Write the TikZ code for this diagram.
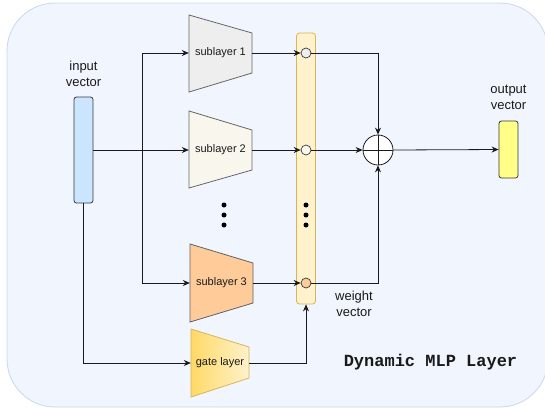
\documentclass[tikz,border=0pt]{standalone}
\usepackage{fontspec}
\setmainfont{Liberation Sans}
\setmonofont{Liberation Mono}
\usetikzlibrary{arrows.meta,calc}
\definecolor{framefill}{HTML}{F1F5FD}
\definecolor{framec}{HTML}{C9D6EE}
\definecolor{inblue}{HTML}{CCE5FF}
\definecolor{outyel}{HTML}{FFFF88}
\definecolor{darkst}{HTML}{36393D}
\definecolor{barfill}{HTML}{FFF2CC}
\definecolor{barst}{HTML}{D6B656}
\definecolor{sgray}{HTML}{EEEEEE}
\definecolor{scream}{HTML}{F9F7ED}
\definecolor{sorange}{HTML}{FFCC99}
\definecolor{gateyel}{HTML}{FFD966}
\definecolor{trapst}{HTML}{666666}
\definecolor{ink}{HTML}{1A1A1A}
\begin{document}
\begin{tikzpicture}[x=1pt,y=-1pt,
  conn/.style={draw=ink, line width=0.8pt, -{Stealth[length=7pt,width=6pt]}},
  plain/.style={draw=ink, line width=0.8pt},
  trapdraw/.style={draw=trapst, line width=0.8pt},
  trapbox/.style={minimum width=63pt, minimum height=77pt, inner sep=0pt, font=\fontsize{11}{13}\selectfont, text=ink},
  vecbox/.style={draw=darkst, rounded corners=2.5pt, line width=0.8pt, inner sep=0pt},
  wcirc/.style={circle, draw=darkst, line width=0.7pt, minimum size=10pt, inner sep=0pt},
  lbl/.style={align=center, font=\fontsize{13}{16}\selectfont, text=ink},
  dotc/.style={fill=black}]
\useasboundingbox (0,0) rectangle (545,408);
% frame
\draw[draw=framec, fill=framefill, line width=0.8pt, rounded corners=48pt] (7,3) rectangle (548,407);

% trapezoids
\draw[trapdraw, fill=sgray] (189,15) -- (252,33) -- (252,73) -- (189,92) -- cycle;
\draw[trapdraw, fill=scream] (189,111) -- (252,130) -- (252,170) -- (189,188) -- cycle;
\draw[trapdraw, draw=darkst!80, fill=sorange] (190,244) -- (253,263) -- (253,303) -- (190,322) -- cycle;
\path[draw=barst, line width=0.8pt, left color=gateyel, right color=barfill] (191,329) -- (249,347) -- (249,378) -- (191,397) -- cycle;

\node[trapbox] (s1) at (220.5,53) {sublayer 1};
\node[trapbox] (s2) at (220.5,150) {sublayer 2};
\node[trapbox] (s3) at (221.5,283) {sublayer 3};
\node[trapbox, minimum width=58pt, minimum height=68pt] (g) at (220,363) {gate layer};

% dots between sublayers
\fill[dotc] (224,205) circle (2.5);
\fill[dotc] (224,215) circle (2.5);
\fill[dotc] (224,225) circle (2.5);

% vectors
\node[vecbox, fill=inblue, minimum width=19pt, minimum height=106pt] (in) at (83.5,150) {};
\node[lbl] (inlbl) at (83.5,73.5) {input\\vector};
\node[vecbox, fill=outyel, minimum width=19pt, minimum height=57pt] (out) at (508.5,149.5) {};
\node[lbl] (outlbl) at (508.5,97) {output\\vector};

% weight vector bar
\node[draw=barst, fill=barfill, line width=0.8pt, rounded corners=3pt, minimum width=19pt, minimum height=271pt, inner sep=0pt] (bar) at (306,168.5) {};
\node[wcirc, fill=sgray] (w1) at (306,53) {};
\node[wcirc, fill=scream] (w2) at (306,150) {};
\node[wcirc, fill=sorange] (w3) at (306,283) {};
\fill[dotc] (306,205) circle (2.5);
\fill[dotc] (306,215) circle (2.5);
\fill[dotc] (306,225) circle (2.5);
\node[lbl] (wlbl) at (354,303.5) {weight\\vector};

% sum
\node[circle, draw=ink, fill=white, line width=0.8pt, minimum size=30pt, inner sep=0pt] (sum) at (378,150) {};
\draw[plain] (sum.north) -- (sum.south);
\draw[plain] (sum.west) -- (sum.east);

% title
\node[font=\ttfamily\bfseries\fontsize{17}{20}\selectfont, text=ink] (title) at (430.5,362) {Dynamic MLP Layer};

% connectors
\coordinate (j) at (142,150);
\draw[conn] (in.east) -- (s2.west);
\draw[conn] (j) |- (s1.west);
\draw[conn] (j) |- (s3.west);
\draw[conn] (in.south) |- (g.west);
\draw[conn] (s1.east) -- (w1.west);
\draw[conn] (s2.east) -- (w2.west);
\draw[conn] (s3.east) -- (w3.west);
\draw[conn] (g.east) -| (bar.south);
\draw[conn] (w1.east) -| (sum.north);
\draw[conn] (w2.east) -- (sum.west);
\draw[conn] (w3.east) -| (sum.south);
\draw[conn] (sum.east) -- (out.west);
\end{tikzpicture}
\end{document}
